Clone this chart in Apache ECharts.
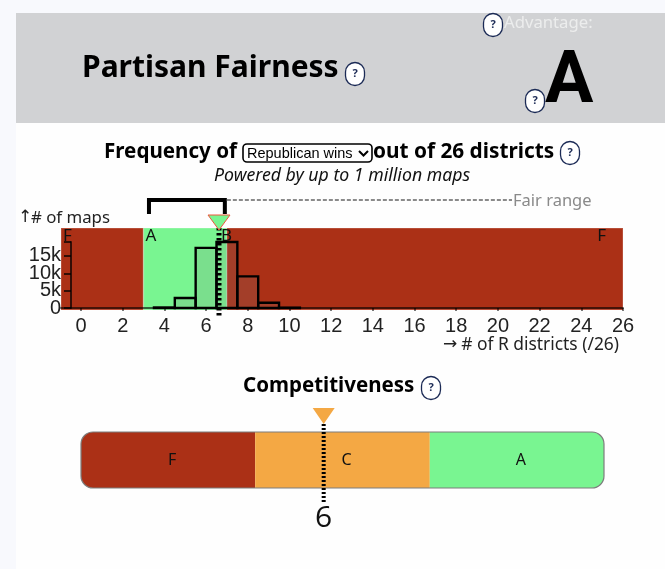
<!DOCTYPE html>
<html><head><meta charset="utf-8">
<style>html,body{margin:0;padding:0;background:#fff}#c{width:665px;height:569px}</style>
<script src="https://cdn.jsdelivr.net/npm/echarts@6/dist/echarts.min.js"></script>
</head><body><div id="c"></div>
<script>
// ---- data ----
const histDistricts = [4, 5, 6, 7, 8, 9, 10];
const histMaps = [150, 2900, 17300, 19000, 9100, 1500, 100];
const fairnessBands = [[-0.96, 3, 'F'], [3, 7, 'A'], [7, 26, 'F']];
const fairRange = [3.26, 6.9];
const fairnessValue = [6.62];
const xTicks = [0,2,4,6,8,10,12,14,16,18,20,22,24,26];
const yTicks = [0,5000,10000,15000];
const compBands = [[0,4.33,'F'],[4.33,8.67,'C'],[8.67,13,'A']];
const compValue = [6];
const helpBadges = [[493,25],[355,74],[535,101],[570,153],[431,388]];

const RED='#ab3016', GREEN='#79f591', ORANGE='#f4a844';
const bandColor={F:RED,A:GREEN,C:ORANGE};
const PLEX='"Noto Sans",sans-serif', HELV='"Liberation Sans",Arial,sans-serif';

const txt=(text,x,y,font,fill,align)=>({type:'text',z:20,x,y,style:{text,font,fill:fill||'#000',align:align||'left',verticalAlign:'middle'}});
const graphics=[
 {type:'rect',z:1,shape:{x:0,y:0,width:16,height:569},style:{fill:'#f8f9fd'}},
 {type:'rect',z:1,shape:{x:0,y:0,width:665,height:13},style:{fill:'#f8f9fd'}},
 {type:'rect',z:1,shape:{x:16,y:13,width:649,height:110},style:{fill:'#d1d2d4'}},
 txt('Partisan Fairness',82,68,'700 30px '+PLEX),
 txt('Advantage:',504,23,'400 16.7px '+PLEX,'#eceded'),
 txt('A',545,84,'700 72px Roboto,'+PLEX),
 txt('Frequency of',104,152,'700 20.6px '+PLEX),
 txt('out of 26 districts',373,152,'700 20.8px '+PLEX),
 txt('Powered by up to 1 million maps',214,176,'italic 400 17.7px '+PLEX,'#111'),
 txt('Fair range',513,201,'400 16.5px '+PLEX,'#8a8a8a'),
 txt('↑',18,218,'400 17px "DejaVu Sans"','#222'),
 txt('# of maps',31,218,'400 16.8px '+PLEX,'#222'),
 txt('→',443,345,'400 17px "DejaVu Sans"','#222'),
 txt('# of R districts (/26)',619,345,'400 17.4px '+PLEX,'#222','right'),
 txt('Competitiveness',243,386,'700 20.5px '+PLEX),
 {type:'rect',z:15,shape:{x:243,y:144,width:129,height:18,r:4},style:{fill:'#fff',stroke:'#000',lineWidth:1.6}},
 txt('Republican wins',247,153.5,'400 14.5px '+HELV,'#000'),
 {type:'polyline',z:20,shape:{points:[[359,151],[363.5,155.5],[368,151]]},style:{fill:'none',stroke:'#000',lineWidth:2}}
];
helpBadges.forEach(([x,y])=>{
 graphics.push({type:'rect',z:15,shape:{x:x-9.5,y:y-11.5,width:19,height:23,r:9.5},style:{fill:'#fff',stroke:'#1b2a55',lineWidth:1.3}});
 graphics.push(txt('?',x,y,'700 11px '+PLEX,'#1b2a55','center'));
});

const rectAt=(api,x0,x1,y0,y1,style)=>{const a=api.coord([x0,y0]),b=api.coord([x1,y1]);
 return {type:'rect',shape:{x:a[0],y:b[1],width:b[0]-a[0],height:a[1]-b[1]},style};};

const option={
 animation:false,backgroundColor:'#fefefe',graphic:{elements:graphics},
 grid:[
  {left:61,right:42,top:228,height:80},
  {left:71,right:42,top:242,height:66},
  {left:81,width:523,top:432,height:56}
 ],
 xAxis:[
  {gridIndex:0,type:'value',min:-0.96,max:26,z:5,splitLine:{show:false},
   axisLine:{onZero:false,lineStyle:{color:'rgba(0,0,0,.6)',width:2}},
   axisTick:{show:true,length:3,customValues:xTicks,lineStyle:{color:'rgba(0,0,0,.7)',width:1.5}},
   axisLabel:{customValues:xTicks,margin:8,fontFamily:HELV,fontSize:20,color:'#222'}},
  {gridIndex:1,type:'value',min:-10/20.846,max:26,show:false},
  {gridIndex:2,type:'value',min:0,max:13,show:false}
 ],
 yAxis:[
  {gridIndex:0,type:'value',min:0,max:23000,show:false},
  {gridIndex:1,type:'value',min:0,max:19000,interval:5000,z:5,splitLine:{show:false},
   axisLine:{show:true,onZero:false,lineStyle:{color:'rgba(0,0,0,.7)',width:2}},
   axisTick:{show:true,length:7,lineStyle:{color:'rgba(0,0,0,.7)',width:2}},
   axisLabel:{show:false}}, 
  {gridIndex:2,type:'value',min:0,max:1,show:false}
 ],
 series:[
  {type:'custom',name:'bands',xAxisIndex:0,yAxisIndex:0,z:1,silent:true,data:fairnessBands,
   encode:{x:[0,1]},
   renderItem(p,api){const x0=api.value(0),x1=api.value(1);
    return rectAt(api,x0,x1,-575,23000,{fill:bandColor[fairnessBands[p.dataIndex][2]],stroke:'rgba(255,255,255,.2)',lineWidth:1.5});}},
  {type:'custom',name:'bandLetters',xAxisIndex:0,yAxisIndex:0,z:2,silent:true,data:[[-0.96],[3],[7],[26]],
   encode:{x:0},
   renderItem(p,api){const c=api.coord([api.value(0),23000]);const al=['left','left','left','right'][p.dataIndex];
    const t=['F','A','B','F'][p.dataIndex];
    return {type:'text',x:c[0]+(al==='left'?2:-17)-(t==='B'?8:0),y:c[1]+8,style:{text:t,font:'400 17px '+PLEX,fill:'#111',align:al,verticalAlign:'middle'}};}},
  {type:'custom',name:'yLabels',xAxisIndex:1,yAxisIndex:1,z:6,silent:true,data:yTicks.map(v=>[0,v]),
   encode:{y:1},
   renderItem(p,api){const v=api.value(1);const y=api.coord([0,v])[1];
    return {type:'text',x:p.coordSys.x-10,y,style:{text:v===0?'0':(v/1000)+'k',font:'400 20px '+HELV,fill:'#222',align:'right',verticalAlign:'middle'}};}},
  {type:'custom',name:'hist',xAxisIndex:1,yAxisIndex:1,z:3,silent:true,data:histDistricts.map((d,i)=>[d,histMaps[i]]),
   encode:{x:0,y:1},
   renderItem(p,api){const d=api.value(0),v=api.value(1);
    return rectAt(api,d-.5,d+.5,0,v,{fill:'rgba(128,128,128,.18)',stroke:'#000',lineWidth:2.4});}},
  {type:'custom',name:'fairRange',xAxisIndex:0,yAxisIndex:0,z:4,silent:true,data:[[fairRange[0],fairRange[1]]],
   encode:{x:[0,1]},
   renderItem(p,api){const a=api.coord([api.value(0),23000])[0],b=api.coord([api.value(1),23000])[0];const top=p.coordSys.y;
    return {type:'group',children:[
     {type:'polyline',shape:{points:[[a,top-14],[a,top-28],[b,top-28],[b,top-14]]},style:{fill:'none',stroke:'#000',lineWidth:4}},
     {type:'line',shape:{x1:b+2,y1:top-28,x2:512,y2:top-28},style:{stroke:'#8a8a8a',lineWidth:2,lineDash:[4,2]}}
    ]};}},
  {type:'custom',name:'fairValue',xAxisIndex:0,yAxisIndex:0,z:6,silent:true,data:fairnessValue.map(v=>[v]),
   encode:{x:0},
   renderItem(p,api){const x=api.coord([api.value(0),0])[0];const top=p.coordSys.y;
    return {type:'group',children:[
     {type:'line',shape:{x1:x,y1:top,x2:x,y2:top+89},style:{stroke:'#000',lineWidth:5,lineDash:[2.5,2.5]}},
     {type:'polygon',shape:{points:[[x-11,top-13],[x+11,top-13],[x,top+2]]},style:{fill:GREEN,stroke:'#f0563c',lineWidth:1}}
    ]};}},
  {type:'custom',name:'compBands',xAxisIndex:2,yAxisIndex:2,z:3,silent:true,data:compBands,
   encode:{x:[0,1]},
   renderItem(p,api){const i=p.dataIndex,x0=api.value(0),x1=api.value(1),l=compBands[i][2];
    const a=api.coord([x0,0]),b=api.coord([x1,1]);
    const r=i===0?[12,0,0,12]:i===2?[0,12,12,0]:0;
    return {type:'group',children:[
     {type:'rect',shape:{x:a[0],y:b[1],width:b[0]-a[0],height:a[1]-b[1],r},style:{fill:bandColor[l]}},
     {type:'text',x:(a[0]+b[0])/2+4,y:(a[1]+b[1])/2,style:{text:l,font:'400 16px '+PLEX,fill:'#111',align:'center',verticalAlign:'middle'}}
    ]};}},
  {type:'custom',name:'compOutline',xAxisIndex:2,yAxisIndex:2,z:4,silent:true,data:[[0,13]],
   encode:{x:[0,1]},
   renderItem(p,api){const a=api.coord([api.value(0),0]),b=api.coord([api.value(1),1]);
    return {type:'rect',shape:{x:a[0],y:b[1],width:b[0]-a[0],height:a[1]-b[1],r:12},style:{fill:'none',stroke:'#7d7d7d',lineWidth:1.2}};}},
  {type:'custom',name:'compValue',xAxisIndex:2,yAxisIndex:2,z:6,silent:true,data:compValue.map(v=>[v]),
   encode:{x:0},
   renderItem(p,api){const x=api.coord([api.value(0),0])[0]+1.3;const top=p.coordSys.y;
    return {type:'group',children:[
     {type:'line',shape:{x1:x,y1:top-8,x2:x,y2:top+70},style:{stroke:'#000',lineWidth:4,lineDash:[2,2]}},
     {type:'polygon',shape:{points:[[x-11,top-24],[x+11,top-24],[x,top-8]]},style:{fill:ORANGE}},
     {type:'text',x,y:top+86,style:{text:String(api.value(0)),font:'400 30px "Open Sans",'+PLEX,fill:'#111',align:'center',verticalAlign:'middle'}}
    ]};}}
 ]
};
const chart=echarts.init(document.getElementById('c'),null,{renderer:'canvas',width:665,height:569});
chart.setOption(option);
</script></body></html>
